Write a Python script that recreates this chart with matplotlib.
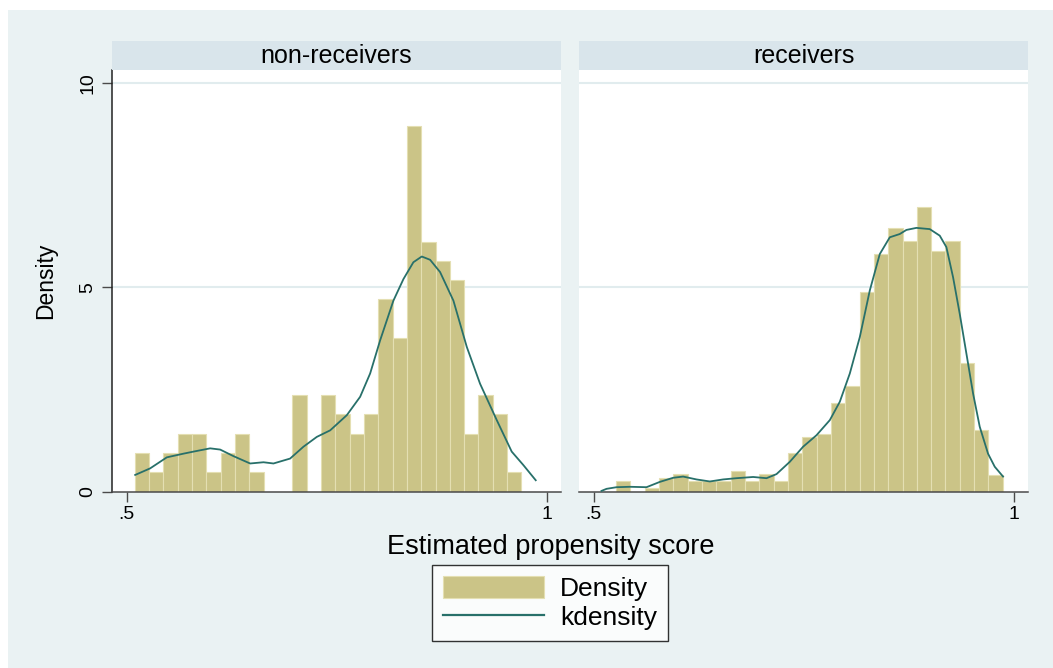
import matplotlib
matplotlib.use("Agg")
import matplotlib.pyplot as plt
from matplotlib.patches import Rectangle, Patch
from matplotlib.lines import Line2D

plt.rcParams['font.family'] = ['Liberation Sans', 'DejaVu Sans']

# ---------------- data ----------------
panels = ["non-receivers", "receivers"]
bin_start = 0.5095
bin_width = 0.01705

dens_nonrec = [0.95, 0.47, 0.95, 1.42, 1.42, 0.47, 0.95, 1.42, 0.47, 0.0,
               0.0, 2.36, 0.0, 2.36, 1.89, 1.42, 1.89, 4.72, 3.76, 8.94,
               6.10, 5.65, 5.18, 1.42, 2.36, 1.89, 0.47, 0.0]
dens_rec = [0.0, 0.26, 0.0, 0.09, 0.34, 0.43, 0.27, 0.27, 0.27, 0.51,
            0.27, 0.43, 0.27, 0.94, 1.34, 1.42, 2.17, 2.58, 4.89, 5.80,
            6.45, 6.12, 6.95, 5.88, 6.12, 3.15, 1.50, 0.42]

kx_nonrec = [0.5099, 0.5277, 0.5476, 0.5674, 0.5793, 0.5992, 0.6111, 0.6269,
             0.6468, 0.6627, 0.6746, 0.6944, 0.7103, 0.7262, 0.7421, 0.7619,
             0.7778, 0.7897, 0.8016, 0.8174, 0.8294, 0.8412, 0.8512, 0.8611,
             0.8730, 0.8889, 0.9048, 0.9206, 0.9405, 0.9583, 0.9722, 0.9869]
ky_nonrec = [0.41, 0.57, 0.84, 0.93, 0.98, 1.06, 1.03, 0.87,
             0.69, 0.72, 0.69, 0.81, 1.10, 1.34, 1.50, 1.87,
             2.32, 2.89, 3.70, 4.67, 5.20, 5.61, 5.75, 5.67,
             5.37, 4.67, 3.54, 2.64, 1.75, 0.98, 0.65, 0.28]

kx_rec = [0.5091, 0.5151, 0.5270, 0.5429, 0.5627, 0.5786, 0.5944, 0.6063,
          0.6222, 0.6381, 0.6540, 0.6698, 0.6897, 0.7056, 0.7175, 0.7333,
          0.7492, 0.7651, 0.7810, 0.7929, 0.8048, 0.8167, 0.8286, 0.8405,
          0.8524, 0.8643, 0.8722, 0.8841, 0.9000, 0.9119, 0.9198, 0.9278,
          0.9357, 0.9437, 0.9516, 0.9595, 0.9694, 0.9774, 0.9873]
ky_rec = [0.02, 0.07, 0.11, 0.12, 0.11, 0.24, 0.34, 0.37,
          0.30, 0.25, 0.30, 0.33, 0.36, 0.33, 0.43, 0.73,
          1.10, 1.38, 1.75, 2.20, 2.89, 3.78, 4.92, 5.81,
          6.22, 6.30, 6.40, 6.45, 6.42, 6.26, 5.98, 5.24,
          4.35, 3.37, 2.40, 1.59, 0.93, 0.61, 0.37]

xticks = [0.5, 1.0]
xticklabels = [".5", "1"]
yticks = [0, 5, 10]
yticklabels = ["0", "5", "10"]

# ---------------- style ----------------
W, H = 1053, 668
BG = '#EAF2F3'
STRIP = '#D9E5EB'
BAR = '#CBC487'
BAR_EDGE = '#E4DFB2'
LINE = '#28706A'
GRID = '#E1ECEE'

fig = plt.figure(figsize=(W / 100, H / 100), dpi=100)
fig.patch.set_facecolor('white')
fig.patches.append(Rectangle((8 / W, 0), 1 - 8 / W, 1 - 10 / H,
                             transform=fig.transFigure, facecolor=BG,
                             edgecolor='none', zorder=-10))


def px_axes(x0, y0, x1, y1):
    return fig.add_axes([x0 / W, 1 - y1 / H, (x1 - x0) / W, (y1 - y0) / H])


panel_px = [(112, 561), (579, 1028)]
data = [(dens_nonrec, kx_nonrec, ky_nonrec), (dens_rec, kx_rec, ky_rec)]
bin_lefts = [bin_start + i * bin_width for i in range(len(dens_nonrec))]

for k, ((x0, x1), (dens, kx, ky)) in enumerate(zip(panel_px, data)):
    ax = px_axes(x0, 70, x1, 491.7)
    ax.set_facecolor('white')
    ax.bar(bin_lefts, dens, width=bin_width, align='edge', color=BAR,
           edgecolor=BAR_EDGE, linewidth=0.8, zorder=2)
    ax.plot(kx, ky, color=LINE, lw=1.3, zorder=3)
    ax.set_xlim(0.4823, 1.0170)
    ax.set_ylim(0, 10.31)
    for g in [5, 10]:
        ax.axhline(g, color=GRID, lw=1.5, zorder=1)
    for s in ['top', 'right']:
        ax.spines[s].set_visible(False)
    ax.spines['bottom'].set_color('#4a4a4a')
    ax.spines['bottom'].set_linewidth(1.1)
    ax.set_xticks(xticks)
    ax.set_xticklabels(xticklabels, fontsize=14)
    ax.tick_params(axis='x', length=7, width=1.0, color='#4a4a4a', pad=3)
    if k == 0:
        ax.spines['left'].set_color('#222222')
        ax.spines['left'].set_linewidth(1.1)
        ax.set_yticks(yticks)
        ax.set_yticklabels(yticklabels, fontsize=14, rotation=90, va='center')
        ax.tick_params(axis='y', length=7, width=1.0, color='#4a4a4a', pad=4)
        ax.set_ylabel("Density", fontsize=16.5, labelpad=16)
    else:
        ax.spines['left'].set_visible(False)
        ax.set_yticks([])
    # strip
    sax = px_axes(x0, 41, x1, 70)
    sax.set_facecolor(STRIP)
    sax.set_xticks([])
    sax.set_yticks([])
    for s in sax.spines.values():
        s.set_visible(False)
    sax.text(0.5, 0.47, panels[k], ha='center', va='center', fontsize=18,
             transform=sax.transAxes)

fig.text(551 / W, 1 - 547 / H, "Estimated propensity score", ha='center',
         va='center', fontsize=19.5)

handles = [Patch(facecolor=BAR, edgecolor=BAR_EDGE, linewidth=0.8),
           Line2D([0], [0], color=LINE, lw=1.6)]
leg = fig.legend(handles, ["Density", "kdensity"], loc='center',
                 bbox_to_anchor=(550 / W, 1 - 603 / H), fontsize=19,
                 frameon=True, fancybox=False, edgecolor='black',
                 handlelength=3.85, handleheight=0.9, labelspacing=0.12,
                 handletextpad=0.6, borderpad=0.42, borderaxespad=0)
leg.get_frame().set_linewidth(1.0)
leg.get_frame().set_facecolor('white')

fig.savefig("out.png", dpi=100, facecolor=fig.get_facecolor())
